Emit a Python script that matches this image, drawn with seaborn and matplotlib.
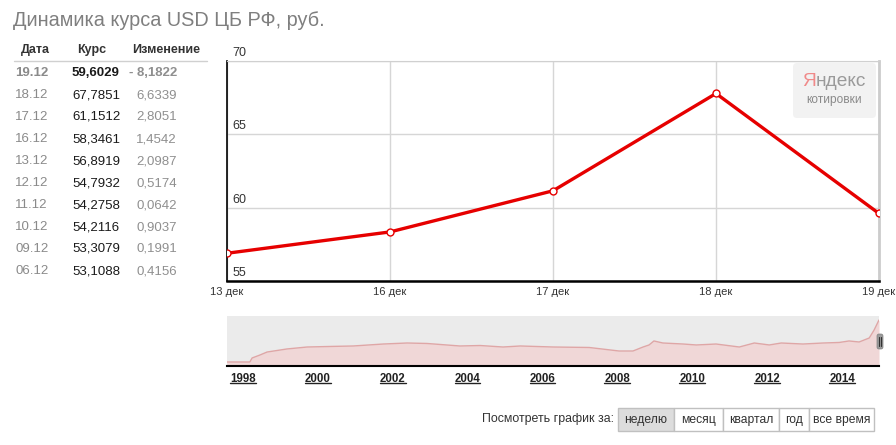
import numpy as np
import pandas as pd
import matplotlib
matplotlib.use('Agg')
import matplotlib.pyplot as plt
from matplotlib.patches import Rectangle, FancyBboxPatch
from matplotlib.lines import Line2D
from matplotlib.transforms import IdentityTransform
import seaborn as sns

# table on the left
table_dates = ['19.12', '18.12', '17.12', '16.12', '13.12', '12.12', '11.12', '10.12', '09.12', '06.12']
table_rates = [59.6029, 67.7851, 61.1512, 58.3461, 56.8919, 54.7932, 54.2758, 54.2116, 53.3079, 53.1088]
table_changes = [-8.1822, 6.6339, 2.8051, 1.4542, 2.0987, 0.5174, 0.0642, 0.9037, 0.1991, 0.4156]

# main chart (last week)
week_labels = ['13 дек', '16 дек', '17 дек', '18 дек', '19 дек']
week_rates = [56.8919, 58.3461, 61.1512, 67.7851, 59.6029]
y_ticks = [55, 60, 65, 70]

# overview strip, positions
nav_pos = [1997.92, 1998.53, 1998.59, 1998.80, 1998.99, 1999.52, 2000.06, 2000.68, 2001.29,
           2002.09, 2002.73, 2003.26, 2004.14, 2004.68, 2005.29, 2005.75, 2006.63, 2007.59,
           2008.39, 2008.76, 2009.03, 2009.19, 2009.32, 2009.56, 2010.10, 2010.45, 2010.98,
           2011.60, 2012.00, 2012.40, 2012.72, 2013.30, 2013.84, 2014.27, 2014.53, 2014.80,
           2015.07, 2015.20, 2015.33]
nav_vals = [5.9, 5.9, 11.8, 16.2, 20.6, 25.1, 28.0, 28.8, 29.5, 32.4, 33.9, 33.2, 29.5, 30.2,
            28.0, 29.5, 28.0, 27.3, 22.1, 22.1, 28.0, 31.0, 36.9, 33.9, 32.4, 31.0, 32.4, 28.0,
            33.9, 31.0, 33.9, 32.4, 33.9, 34.7, 36.9, 35.4, 41.3, 53.1, 67.8]
nav_years = [1998, 2000, 2002, 2004, 2006, 2008, 2010, 2012, 2014]

periods = ['неделю', 'месяц', 'квартал', 'год', 'все время']

W, H = 896, 445

sns.set_style('white')
plt.rcParams['font.family'] = ['Liberation Sans', 'DejaVu Sans']

fig = plt.figure(figsize=(W / 100, H / 100), dpi=100)


def fp(x, y):
    # pixel position (from top-left) -> figure fraction
    return x / W, 1 - y / H


def fig_text(x, y, s, **kw):
    fx, fy = fp(x, y)
    return fig.text(fx, fy, s, **kw)


# ---- title and table
fig_text(13, 20, 'Динамика курса USD ЦБ РФ, руб.', fontsize=14.3, color='#7f7f7f', va='center')

fig_text(21, 50, 'Дата', fontsize=9, fontweight='bold', color='#333333', va='center')
fig_text(77, 50, 'Курс', fontsize=9, fontweight='bold', color='#333333', va='center')
fig_text(132, 50, 'Изменение', fontsize=9, fontweight='bold', color='#333333', va='center')
fig.lines.append(Line2D([14 / W, 207 / W], [1 - 61 / H, 1 - 61 / H], color='#d0d0d0', lw=1,
                        transform=fig.transFigure))


def fmt_change(v):
    s = f'{abs(v):.4f}'.replace('.', ',')
    return '- ' + s if v < 0 else s


for i, (d, r, c) in enumerate(zip(table_dates, table_rates, table_changes)):
    y = 73 + 22 * i
    w = 'bold' if i == 0 else 'normal'
    fig_text(15, y, d, fontsize=9.5, color='#8a8a8a', fontweight=w, va='center')
    fig_text(72, y, f'{r:.4f}'.replace('.', ','), fontsize=9.5, color='#1a1a1a', fontweight=w, va='center')
    fig_text(177, y, fmt_change(c), fontsize=9.5, color='#8f8f8f', fontweight=w, va='center', ha='right')

# ---- main chart
l, b = fp(227, 281)
ax = fig.add_axes([l, b, (879 - 227) / W, (281 - 61) / H])
week = pd.DataFrame({'pos': np.arange(len(week_labels)), 'rate': week_rates})
sns.lineplot(data=week, x='pos', y='rate', ax=ax, color='#e60000', lw=2.4, marker='o',
             markersize=5, markerfacecolor='white', markeredgecolor='#e60000', markeredgewidth=1,
             zorder=5)
ax.set_xlim(0, len(week_labels) - 1)
ax.set_ylim(y_ticks[0], y_ticks[-1])
ax.set_xticks(week['pos'], week_labels)
ax.set_yticks(y_ticks, [''] * len(y_ticks))
ax.set_xlabel('')
ax.set_ylabel('')
ax.grid(True, color='#d6d6d6', lw=1)
ax.tick_params(axis='x', length=0, pad=4, labelsize=8, labelcolor='#333333')
ax.tick_params(axis='y', length=0)
# value labels sit just above their grid lines, inside the plot
for v in y_ticks:
    ax.annotate(str(v), xy=(0, v), xycoords=('axes fraction', 'data'), xytext=(4, 3.5),
                textcoords='offset points', ha='left', va='baseline', fontsize=9, color='#333333')
ax.spines['left'].set_color('black')
ax.spines['left'].set_linewidth(1.2)
ax.spines['bottom'].set_color('black')
ax.spines['bottom'].set_linewidth(1.8)
ax.spines['top'].set_color('#d0d0d0')
ax.spines['right'].set_color('#cccccc')
ax.spines['right'].set_linewidth(2)

# yandex badge
logo = FancyBboxPatch((793, H - 118), 83, 55, boxstyle='round,pad=0,rounding_size=4',
                      fc='#f2f2f2', ec='none', transform=IdentityTransform())
fig.patches.append(logo)
fig_text(816, 82, 'Я', fontsize=13.8, color='#f08a8a', va='center', ha='right')
fig_text(816, 82, 'ндекс', fontsize=13.8, color='#9a9a9a', va='center', ha='left')
fig_text(834.5, 100, 'котировки', fontsize=8.6, color='#8a8a8a', va='center', ha='center')

# ---- overview strip
l, b = fp(227, 366)
nav = fig.add_axes([l, b, (879 - 227) / W, (366 - 316) / H])
nav.set_facecolor('#ebebeb')
sns.lineplot(x=nav_pos, y=nav_vals, ax=nav, color='#dfa6a6', lw=1)
nav.fill_between(nav_pos, nav_vals, color='#f0d7d7', lw=0)
nav.set_xlim(nav_pos[0], nav_pos[-1])
nav.set_ylim(0, 73.7)
nav.set_yticks([])
nav.set_xticks(nav_years, [str(y) for y in nav_years])
nav.tick_params(axis='x', length=0, pad=5, labelsize=8.3)
for lbl in nav.get_xticklabels():
    lbl.set_ha('left')
    lbl.set_fontweight('bold')
    lbl.set_color('#222222')
for s in ['top', 'left', 'right']:
    nav.spines[s].set_visible(False)
nav.spines['bottom'].set_color('black')
nav.spines['bottom'].set_linewidth(1.5)

handle = FancyBboxPatch((877, H - 349), 6, 15, boxstyle='round,pad=0,rounding_size=2',
                        fc='#9a9a9a', ec='#808080', lw=0.5, transform=IdentityTransform())
fig.patches.append(handle)
for hx in (879, 881):
    fig.lines.append(Line2D([hx, hx], [H - 346, H - 337], color='#333333', lw=0.8,
                            transform=IdentityTransform()))

# ---- period buttons
fig_text(614, 419, 'Посмотреть график за:', fontsize=8.9, color='#333333', va='center', ha='right')
edges = [618, 674, 723, 779, 809, 874]
for i, name in enumerate(periods):
    x0, x1 = edges[i], edges[i + 1]
    fc = '#dddddd' if i == 0 else 'white'
    fig.patches.append(Rectangle((x0, H - 431), x1 - x0, 23, fc=fc, ec='#c0c0c0', lw=1,
                                 transform=IdentityTransform()))
    fig_text((x0 + x1) / 2, 419.5, name, fontsize=8.7, color='#333333', va='center', ha='center')

# underline the year labels
fig.canvas.draw()
renderer = fig.canvas.get_renderer()
for lbl in nav.get_xticklabels():
    bb = lbl.get_window_extent(renderer)
    fig.lines.append(Line2D([bb.x0, bb.x1], [bb.y0 + 2, bb.y0 + 2], color='#222222', lw=1,
                            transform=IdentityTransform()))

fig.savefig('out.png', dpi=100)
